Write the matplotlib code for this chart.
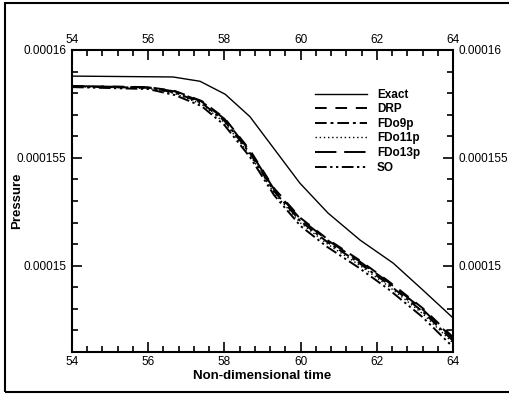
import numpy as np
import matplotlib
matplotlib.use("Agg")
import matplotlib.pyplot as plt
from matplotlib.ticker import MultipleLocator, FuncFormatter
from matplotlib.patches import Rectangle

plt.rcParams['font.family'] = ['Liberation Sans', 'DejaVu Sans']

# data (pressure in units of 1e-6)
t_exact = [54.0, 56.65, 57.36, 58.02, 58.67, 59.98, 60.72, 61.56, 62.43, 63.21, 64.0]
p_exact = [158.79, 158.75, 158.55, 157.95, 156.91, 153.83, 152.44, 151.19, 150.12, 148.87, 147.58]

t_num = [54.0, 56.0, 56.7, 57.4, 58.0, 58.67, 59.3, 60.0, 60.7, 61.5, 62.3, 63.2, 64.0]
p_drp = [158.33, 158.28, 158.10, 157.64, 156.85, 155.36, 153.60, 152.21, 151.24, 150.31, 149.29, 148.04, 146.69]
p_fdo9 = [158.31, 158.25, 158.03, 157.55, 156.72, 155.22, 153.46, 152.06, 151.10, 150.17, 149.15, 147.88, 146.52]
p_fdo11 = [158.30, 158.23, 157.98, 157.49, 156.64, 155.14, 153.38, 151.98, 151.01, 150.08, 149.06, 147.78, 146.42]
p_fdo13 = [158.33, 158.27, 158.08, 157.61, 156.81, 155.31, 153.55, 152.16, 151.19, 150.26, 149.24, 147.98, 146.62]
p_so = [158.28, 158.19, 157.91, 157.40, 156.52, 155.04, 153.28, 151.84, 150.87, 149.94, 148.92, 147.62, 146.23]

fig = plt.figure(figsize=(5.1, 3.94), dpi=100)
ax = fig.add_axes([72/510, 1-352/394, 381/510, 302/394])

sc = 1e-6
ax.plot(t_exact, np.array(p_exact)*sc, "k-", lw=1.0, label="Exact")
ax.plot(t_num, np.array(p_drp)*sc, color="k", lw=1.4, ls=(0, (6, 4.5)), label="DRP")
ax.plot(t_num, np.array(p_fdo9)*sc, color="k", lw=1.4, ls=(0, (6, 2, 1.5, 2)), label="FDo9p")
ax.plot(t_num, np.array(p_fdo11)*sc, color="k", lw=1.0, ls=(0, (1, 2)), label="FDo11p")
ax.plot(t_num, np.array(p_fdo13)*sc, color="k", lw=1.4, ls=(0, (11, 4)), label="FDo13p")
ax.plot(t_num, np.array(p_so)*sc, color="k", lw=1.4, ls=(0, (6, 1.8, 1.2, 1.8, 1.2, 1.8)), label="SO")

ax.set_xlim(54, 64)
ax.set_ylim(0.000146, 0.00016)
ax.xaxis.set_major_locator(MultipleLocator(2))
ax.xaxis.set_minor_locator(MultipleLocator(0.4))
ax.yaxis.set_major_locator(MultipleLocator(0.000005))
ax.yaxis.set_minor_locator(MultipleLocator(0.000001))
ax.yaxis.set_major_formatter(FuncFormatter(lambda v, pos: f"{v:.6f}".rstrip("0")))
ax.tick_params(which="both", direction="in", top=True, right=True,
               labeltop=True, labelright=True, labelsize=8.5, width=1.2, pad=3)
ax.tick_params(axis="y", which="major", pad=4)
ax.tick_params(which="major", length=7)
ax.tick_params(which="minor", length=4)
for s in ax.spines.values():
    s.set_linewidth(1.5)

ax.set_xlabel("Non-dimensional time", fontsize=9.5, fontweight="bold", labelpad=1)
ax.set_ylabel("Pressure", fontsize=9.5, fontweight="bold")
ax.yaxis.set_label_coords(-0.128, 0.5)

leg = ax.legend(loc="upper left", bbox_to_anchor=(0.638, 0.872), frameon=False,
                borderpad=0, borderaxespad=0, handlelength=4.4, handletextpad=0.85,
                labelspacing=0.22, prop={"size": 8.5, "weight": "bold"})

# outer frame (right edge runs off the image, as in the reference)
fig.patches.append(Rectangle((5/510, 1-392/394), 510/510, 389/394, transform=fig.transFigure,
                             fill=False, lw=1.5, ec="k"))

plt.savefig("out.png", dpi=100)
